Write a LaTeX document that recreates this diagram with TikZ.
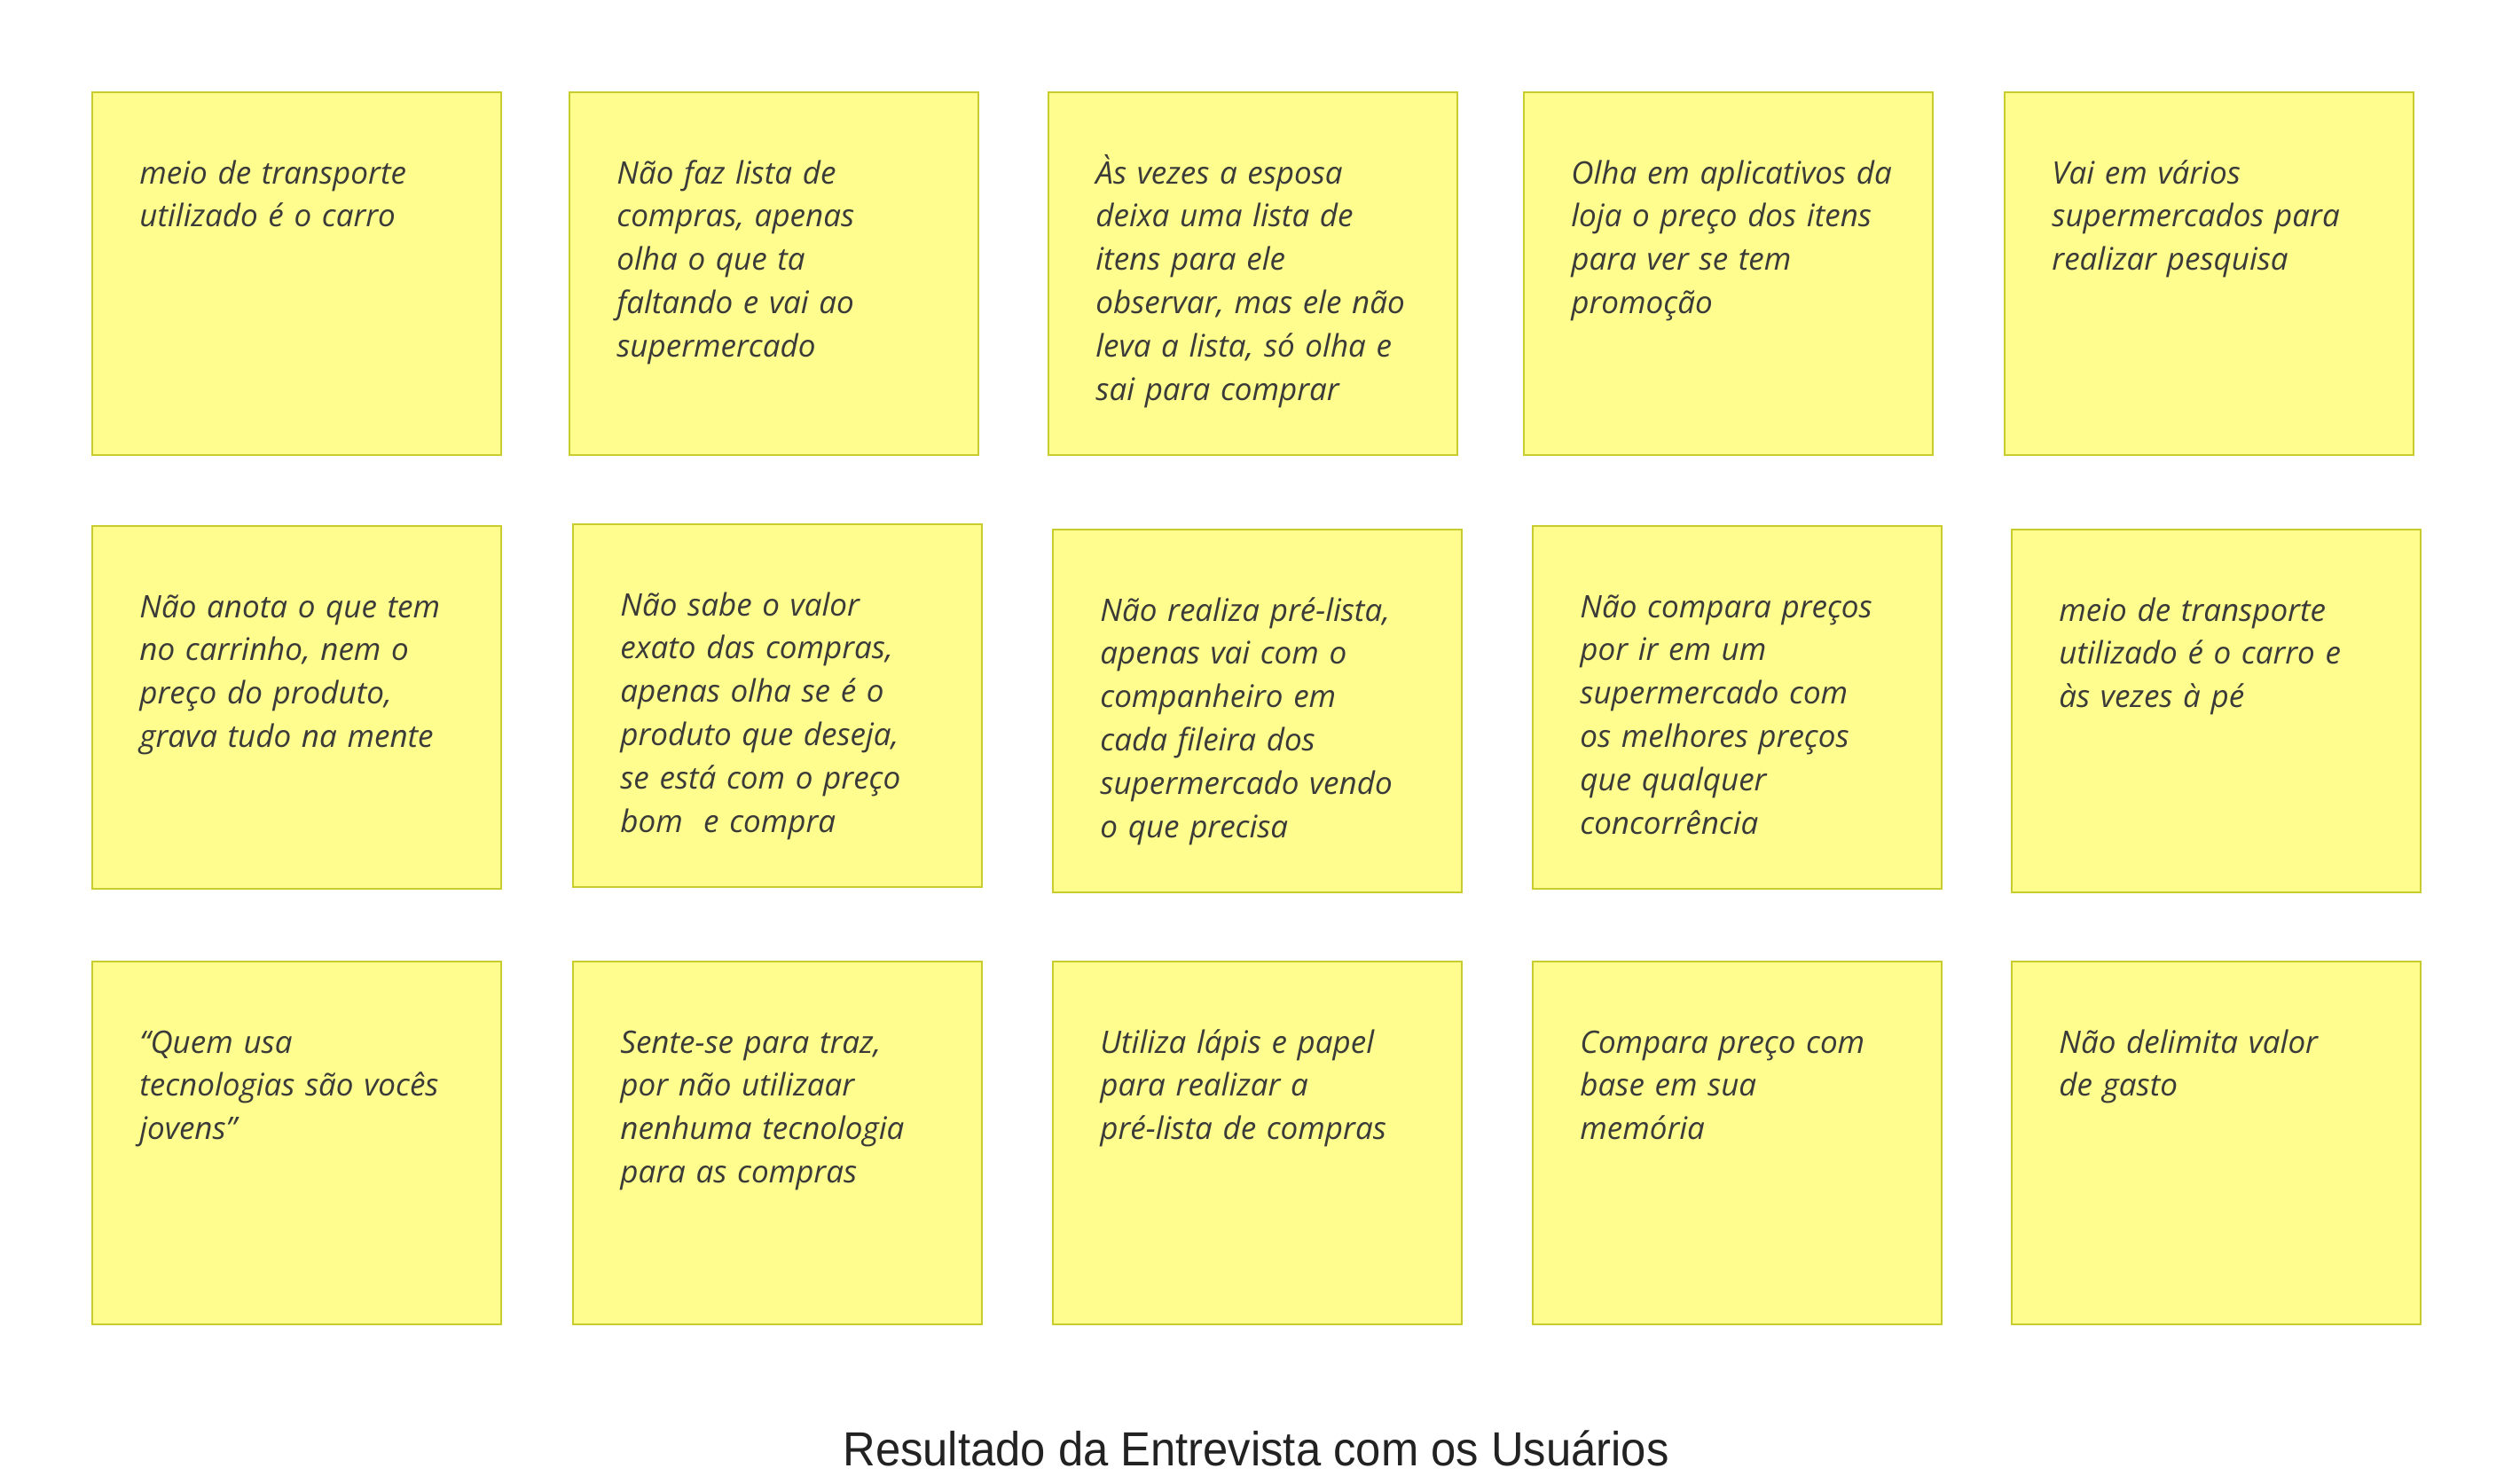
\documentclass[tikz,border=0pt]{standalone}
\usepackage{fontspec}
\usepackage{tikz}
\usepackage{xcolor}
\setmainfont{Open Sans}
\newfontfamily\captionfont[FakeStretch=0.94]{Liberation Sans}
\definecolor{notefill}{HTML}{FFFD8E}
\definecolor{noteline}{HTML}{C9CC2E}
\definecolor{notetext}{HTML}{3A3A38}
\definecolor{captiontext}{HTML}{222222}
\tikzset{
    note-box/.style = {draw=noteline, fill=notefill, line width=1pt, rectangle, anchor=north west, minimum width=230.5pt, minimum height=204.5pt, inner sep=0pt},
    note-text/.style = {anchor=base west, inner sep=0pt, text width=205pt, align=left, text=notetext, font=\itshape\fontsize{17.5}{24.4}\selectfont},
    caption-text/.style = {anchor=base, inner sep=0pt, text=captiontext, font=\captionfont\fontsize{27}{32}\selectfont},
}

\begin{document}
\begin{tikzpicture}
\useasboundingbox[fill=white] (0pt,0pt) rectangle (1416pt,-836pt);
% first row
\node [note-box] (note-a1) at (51.5pt,-51.5pt) {};
\node [note-box] (note-a2) at (320.5pt,-51.5pt) {};
\node [note-box] (note-a3) at (590.5pt,-51.5pt) {};
\node [note-box] (note-a4) at (858.5pt,-51.5pt) {};
\node [note-box] (note-a5) at (1129.5pt,-51.5pt) {};
\node [note-text] at ([shift={(27pt,-52pt)}]note-a1.north west) {meio de transporte\\ utilizado é o carro};
\node [note-text] at ([shift={(27pt,-52pt)}]note-a2.north west) {Não faz lista de\\ compras, apenas\\ olha o que ta\\ faltando e vai ao\\ supermercado};
\node [note-text] at ([shift={(27pt,-52pt)}]note-a3.north west) {Às vezes a esposa\\ deixa uma lista de\\ itens para ele\\ observar, mas ele não\\ leva a lista, só olha e\\ sai para comprar};
\node [note-text] at ([shift={(27pt,-52pt)}]note-a4.north west) {Olha em aplicativos da\\ loja o preço dos itens\\ para ver se tem\\ promoção};
\node [note-text] at ([shift={(27pt,-52pt)}]note-a5.north west) {Vai em vários\\ supermercados para\\ realizar pesquisa};
% second row
\node [note-box] (note-b1) at (51.5pt,-296pt) {};
\node [note-box] (note-b2) at (322.5pt,-295pt) {};
\node [note-box] (note-b3) at (593pt,-298pt) {};
\node [note-box] (note-b4) at (863.5pt,-296pt) {};
\node [note-box] (note-b5) at (1133.5pt,-298pt) {};
\node [note-text] at ([shift={(27pt,-52pt)}]note-b1.north west) {Não anota o que tem\\ no carrinho, nem o\\ preço do produto,\\ grava tudo na mente};
\node [note-text] at ([shift={(27pt,-52pt)}]note-b2.north west) {Não sabe o valor\\ exato das compras,\\ apenas olha se é o\\ produto que deseja,\\ se está com o preço\\ bom\ \ e compra};
\node [note-text] at ([shift={(27pt,-52pt)}]note-b3.north west) {Não realiza pré-lista,\\ apenas vai com o\\ companheiro em\\ cada fileira dos\\ supermercado vendo\\ o que precisa};
\node [note-text] at ([shift={(27pt,-52pt)}]note-b4.north west) {Não compara preços\\ por ir em um\\ supermercado com\\ os melhores preços\\ que qualquer\\ concorrência};
\node [note-text] at ([shift={(27pt,-52pt)}]note-b5.north west) {meio de transporte\\ utilizado é o carro e\\ às vezes à pé};
% third row
\node [note-box] (note-c1) at (51.5pt,-541.5pt) {};
\node [note-box] (note-c2) at (322.5pt,-541.5pt) {};
\node [note-box] (note-c3) at (593pt,-541.5pt) {};
\node [note-box] (note-c4) at (863.5pt,-541.5pt) {};
\node [note-box] (note-c5) at (1133.5pt,-541.5pt) {};
\node [note-text] at ([shift={(27pt,-52pt)}]note-c1.north west) {“Quem usa\\ tecnologias são vocês\\ jovens”};
\node [note-text] at ([shift={(27pt,-52pt)}]note-c2.north west) {Sente-se para traz,\\ por não utilizaar\\ nenhuma tecnologia\\ para as compras};
\node [note-text] at ([shift={(27pt,-52pt)}]note-c3.north west) {Utiliza lápis e papel\\ para realizar a\\ pré-lista de compras};
\node [note-text] at ([shift={(27pt,-52pt)}]note-c4.north west) {Compara preço com\\ base em sua\\ memória};
\node [note-text] at ([shift={(27pt,-52pt)}]note-c5.north west) {Não delimita valor\\ de gasto};
% caption
\node [caption-text] (caption) at (708pt,-826pt) {Resultado da Entrevista com os Usuários};
\end{tikzpicture}
\end{document}
